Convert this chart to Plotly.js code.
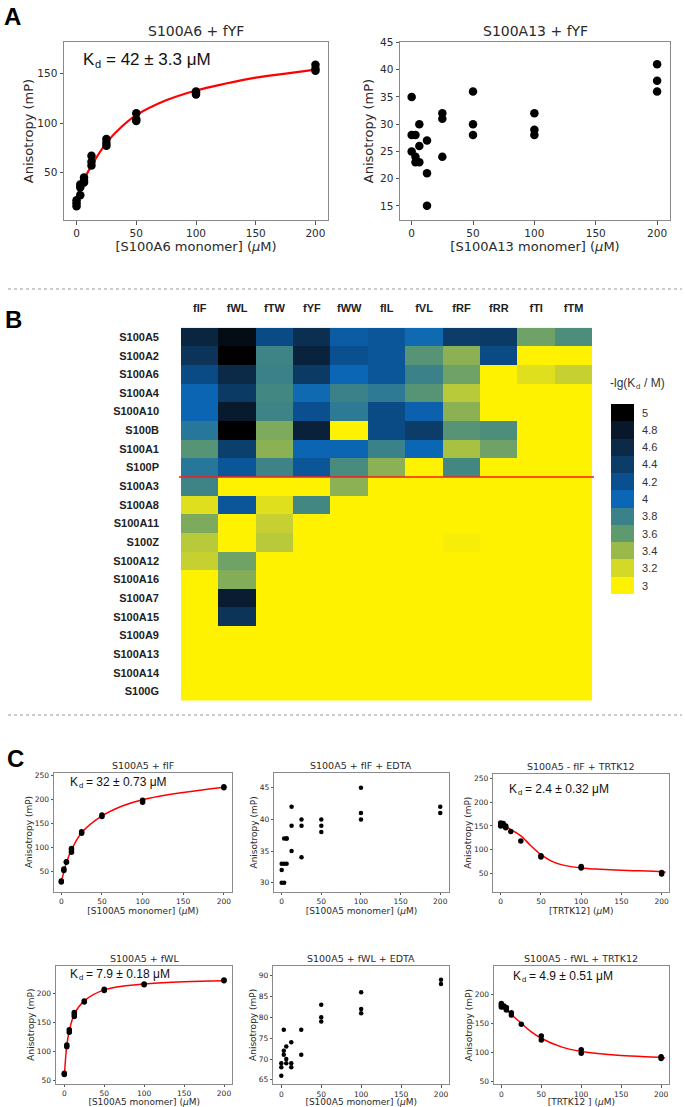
<!DOCTYPE html>
<html><head><meta charset="utf-8">
<script src="https://cdn.plot.ly/plotly-3.0.1.min.js"></script>
<style>body{margin:0;padding:0;background:#fff}#chart{width:685px;height:1107px}</style>
</head><body><div id="chart"></div>
<script>
// ---------- Panel A data ----------
const a6X = [0,0,0,3.125,3.125,3.125,6.25,6.25,6.25,12.5,12.5,12.5,25,25,25,50,50,50,100,100,100,200,200,200];
const a6Y = [16,19,22,27,35,38,40,42,45,57,61,67,77,80,84,102,104,110,129,131,132,153,155,159];
const a6FitX = [0,3.125,6.25,12.5,25,37.5,50,75,100,125,150,175,200];
const a6FitY = [25,35,43,57,80,96,108,123,133,140,146,150,154];
const a13X = [0,0,0,3.125,3.125,3.125,6.25,6.25,6.25,12.5,12.5,12.5,25,25,25,50,50,50,100,100,100,200,200,200];
const a13Y = [35,28,25,28,24,23,30,26,23,27,21,15,32,31,24,36,30,28,32,29,28,41,38,36];

// ---------- Panel B data ----------
const peptides = ['fIF','fWL','fTW','fYF','fWW','fIL','fVL','fRF','fRR','fTI','fTM'];
const s100s = ['S100A5','S100A2','S100A6','S100A4','S100A10','S100B','S100A1','S100P','S100A3','S100A8','S100A11','S100Z','S100A12','S100A16','S100A7','S100A15','S100A9','S100A13','S100A14','S100G'];
const pKd_S100A5  = [4.65,4.9,4.25,4.55,4.1,4.15,3.98,4.4,4.42,3.55,3.7];
const pKd_S100A2  = [4.5,5.0,3.78,4.68,4.2,4.15,3.65,3.45,4.25,3.0,3.0];
const pKd_S100A6  = [4.25,4.6,3.8,4.42,4.0,4.15,3.8,3.55,3.0,3.15,3.25];
const pKd_S100A4  = [4.02,4.42,3.75,3.98,3.8,3.85,3.65,3.3,3.0,3.0,3.0];
const pKd_S100A10 = [4.02,4.78,3.78,4.2,3.85,4.25,4.05,3.45,3.0,3.0,3.0];
const pKd_S100B   = [3.88,5.0,3.5,4.7,3.0,4.25,4.4,3.65,3.7,3.0,3.0];
const pKd_S100A1  = [3.65,4.38,3.45,4.02,4.02,3.8,4.0,3.35,3.55,3.0,3.0];
const pKd_S100P   = [3.88,4.15,3.78,4.15,3.72,3.45,3.0,3.75,3.0,3.0,3.0];
const pKd_S100A3  = [3.78,3.0,3.0,3.0,3.45,3.0,3.0,3.0,3.0,3.0,3.0];
const pKd_S100A8  = [3.15,4.15,3.15,3.75,3.0,3.0,3.0,3.0,3.0,3.0,3.0];
const pKd_S100A11 = [3.5,3.0,3.25,3.0,3.0,3.0,3.0,3.0,3.0,3.0,3.0];
const pKd_S100Z   = [3.3,3.0,3.3,3.0,3.0,3.0,3.0,3.04,3.0,3.0,3.0];
const pKd_S100A12 = [3.25,3.55,3.0,3.0,3.0,3.0,3.0,3.0,3.0,3.0,3.0];
const pKd_S100A16 = [3.0,3.48,3.0,3.0,3.0,3.0,3.0,3.0,3.0,3.0,3.0];
const pKd_S100A7  = [3.0,4.75,3.0,3.0,3.0,3.0,3.0,3.0,3.0,3.0,3.0];
const pKd_S100A15 = [3.0,4.5,3.0,3.0,3.0,3.0,3.0,3.0,3.0,3.0,3.0];
const pKd_S100A9  = [3.0,3.0,3.0,3.0,3.0,3.0,3.0,3.0,3.0,3.0,3.0];
const pKd_S100A13 = [3.0,3.0,3.0,3.0,3.0,3.0,3.0,3.0,3.0,3.0,3.0];
const pKd_S100A14 = [3.0,3.0,3.0,3.0,3.0,3.0,3.0,3.0,3.0,3.0,3.0];
const pKd_S100G   = [3.0,3.0,3.0,3.0,3.0,3.0,3.0,3.0,3.0,3.0,3.0];
const colorLevels = [3,3.2,3.4,3.6,3.8,4,4.2,4.4,4.6,4.8,5];
const colorLevelLabels = ['3','3.2','3.4','3.6','3.8','4','4.2','4.4','4.6','4.8','5'];

// ---------- Panel C data ----------
const c1X = [0,0,3.125,3.125,6.25,6.25,12.5,12.5,12.5,25,25,50,50,100,100,200,200];
const c1Y = [28,30,52,55,69,70,90,95,98,130,133,165,168,195,199,225,227];
const c1FitX = [0,3.125,6.25,12.5,25,50,75,100,150,200];
const c1FitY = [28,49,68,95,131,166,187,200,215,226];
const c2X = [0,0,0,3.125,3.125,3.125,6.25,6.25,6.25,12.5,12.5,12.5,25,25,25,50,50,50,100,100,100,200,200];
const c2Y = [30,32,33,30,33,37,33,37,37,35,39,42,34,39,40,38,39,40,40,41,45,41,42];
const c3X = [0,0,0,3.125,3.125,6.25,6.25,12.5,25,50,50,100,100,200,200];
const c3Y = [150,153,156,151,155,146,150,138,118,84,87,61,64,48,51];
const c3FitX = [0,6.25,12.5,18.75,25,37.5,50,62.5,75,100,125,150,200,205];
const c3FitY = [154,149,142,136,129,108,89,76,68,61,58,56,53,52];
const c4X = [0,0,3.125,3.125,6.25,6.25,12.5,12.5,12.5,25,25,50,50,100,100,200,200];
const c4Y = [60,62,108,111,133,137,160,164,167,185,187,205,207,215,216,222,223];
const c4FitX = [0,3.125,6.25,12.5,25,50,100,150,200];
const c4FitY = [56,110,135,164,187,206,216,220,222];
const c5X = [0,0,0,3.125,3.125,3.125,6.25,6.25,6.25,12.5,12.5,12.5,25,25,50,50,50,100,100,100,200,200];
const c5Y = [66,68,69,77,72,71,73,70,69,74,69,68,77,71,83,80,79,86,82,81,89,88];
const c6X = [0,0,0,3.125,3.125,6.25,6.25,12.5,12.5,25,50,50,100,100,200,200];
const c6Y = [178,181,184,178,180,173,177,164,168,148,121,128,98,104,89,92];
const c6FitX = [0,6.25,12.5,25,37.5,50,75,100,150,200,205];
const c6FitY = [184,175,165,150,135,124,109,101,94,91,90];

// ---------- helpers ----------
const W = 685, H = 1107;
const px = v => v / W;
const py = v => 1 - v / H;
const TXT = '#2a2a2a';
const MPL = 'DejaVu Sans, sans-serif';
const ARIAL = 'Liberation Sans, Arial, sans-serif';

const pkdMatrix = [pKd_S100A5,pKd_S100A2,pKd_S100A6,pKd_S100A4,pKd_S100A10,pKd_S100B,pKd_S100A1,pKd_S100P,
  pKd_S100A3,pKd_S100A8,pKd_S100A11,pKd_S100Z,pKd_S100A12,pKd_S100A16,pKd_S100A7,pKd_S100A15,
  pKd_S100A9,pKd_S100A13,pKd_S100A14,pKd_S100G];

const bandColors = ['#fff200','#d4d827','#9bb94b','#5f9a6f','#3a8189','#0b67b6','#0a5090','#0b3d68','#0b2a48','#08182a','#000000'];
const colorscale = colorLevels.map((lv, i) => [(lv - 3) / 2, bandColors[i]]);

function scatterAxes(xd, yd, xr, yr, ydtick, tfs, ts, xtitle, ytitle, titfs, xst, yst) {
  const common = {showline: true, mirror: true, linecolor: '#8a8a8a', linewidth: 1, ticks: 'outside',
    ticklen: ts, tickcolor: '#555', tickwidth: 1, showgrid: false, zeroline: false,
    tickfont: {family: MPL, size: tfs, color: TXT}, automargin: false};
  const xa = Object.assign({}, common, {domain: xd, range: xr, tickvals: [0,50,100,150,200],
    title: {text: xtitle, font: {family: MPL, size: titfs, color: TXT}, standoff: xst}});
  const ya = Object.assign({}, common, {domain: yd, range: yr, dtick: ydtick,
    title: {text: ytitle, font: {family: MPL, size: titfs, color: TXT}, standoff: yst}});
  return [xa, ya];
}

const layout = {
  width: W, height: H, margin: {l: 0, r: 0, t: 0, b: 0},
  paper_bgcolor: '#fff', plot_bgcolor: 'rgba(0,0,0,0)', showlegend: false,
  annotations: [], shapes: []
};

function setAxes(n, pair) {
  const xk = n === 1 ? 'xaxis' : 'xaxis' + n;
  const yk = n === 1 ? 'yaxis' : 'yaxis' + n;
  pair[0].anchor = n === 1 ? 'y' : 'y' + n;
  pair[1].anchor = n === 1 ? 'x' : 'x' + n;
  layout[xk] = pair[0]; layout[yk] = pair[1];
}

const muLabel = '(<i>μ</i>M)';
// Panel A axes
setAxes(1, scatterAxes([px(64), px(328)], [py(220), py(42)], [-10.5, 210.5], [2, 182], 50, 10.5, 3.5,
  '[S100A6 monomer] ' + muLabel, 'Anisotropy (mP)', 13, 3, 0));
setAxes(2, scatterAxes([px(400), px(670)], [py(220), py(42)], [-9.5, 210.5], [12.4, 45.1], 5, 10.5, 3.5,
  '[S100A13 monomer] ' + muLabel, 'Anisotropy (mP)', 13, 3, 3));
// Panel C axes
setAxes(5, scatterAxes([px(54), px(232)], [py(891.5), py(772.5)], [-9, 210], [8, 257], 50, 7.5, 2.5,
  '[S100A5 monomer] ' + muLabel, 'Anisotropy (mP)', 9, 1, 0));
layout.yaxis5.tickvals = [50,100,150,200,250];
setAxes(6, scatterAxes([px(274.3), px(448.5)], [py(891.5), py(773.3)], [-9.3, 210.4], [28.6, 47.3], 5, 7.5, 2.5,
  '[S100A5 monomer] ' + muLabel, 'Anisotropy (mP)', 9, 1, 0));
setAxes(7, scatterAxes([px(493.3), px(669.3)], [py(891.5), py(774)], [-9.2, 209.5], [11, 260], 50, 7.5, 2.5,
  '[TRTK12] ' + muLabel, 'Anisotropy (mP)', 9, 1, 0));
layout.yaxis7.tickvals = [50,100,150,200,250];
setAxes(8, scatterAxes([px(56), px(232.3)], [py(1083.5), py(965.7)], [-10.4, 210.4], [44.3, 247.8], 50, 7.5, 2.5,
  '[S100A5 monomer] ' + muLabel, 'Anisotropy (mP)', 9, 1, 0));
setAxes(9, scatterAxes([px(273.3), px(449)], [py(1084), py(965.7)], [-10, 210], [64, 92.4], 5, 7.5, 2.5,
  '[S100A5 monomer] ' + muLabel, 'Anisotropy (mP)', 9, 1, 0));
setAxes(10, scatterAxes([px(494), px(668.7)], [py(1084.3), py(966)], [-9.2, 209.5], [44.3, 249], 50, 7.5, 2.5,
  '[TRTK12 ] ' + muLabel, 'Anisotropy (mP)', 9, 1, 0));

// Panel B heatmap axes
layout.xaxis3 = {domain: [px(181), px(592.3)], anchor: 'y3', type: 'category', side: 'top',
  showline: false, showgrid: false, zeroline: false, ticks: '', ticklabelstandoff: 13,
  tickfont: {family: ARIAL, size: 11, color: '#222', weight: 'bold'}};
layout.yaxis3 = {domain: [py(700.7), py(327.7)], anchor: 'x3', type: 'category', autorange: 'reversed',
  showline: false, showgrid: false, zeroline: false, ticks: '', ticklabelstandoff: 21,
  tickfont: {family: ARIAL, size: 11, color: '#222', weight: 'bold'}};
// colour key axes
layout.xaxis4 = {domain: [px(611), px(634)], anchor: 'y4', visible: false, range: [-0.5, 0.5]};
layout.yaxis4 = {domain: [py(594.3), py(404)], anchor: 'x4', side: 'right', range: [2.9, 5.1],
  tickvals: colorLevels, ticktext: colorLevelLabels, ticks: '', showline: false, showgrid: false, zeroline: false,
  ticklabelstandoff: 7, tickfont: {family: ARIAL, size: 11, color: '#333'}};

const data = [];
function dots(x, y, n, size) {
  data.push({type: 'scatter', mode: 'markers', x: x, y: y, xaxis: n === 1 ? 'x' : 'x' + n, yaxis: n === 1 ? 'y' : 'y' + n,
    marker: {color: '#000', size: size}, hoverinfo: 'x+y'});
}
function fit(x, y, n, w) {
  data.push({type: 'scatter', mode: 'lines', x: x, y: y, xaxis: n === 1 ? 'x' : 'x' + n, yaxis: n === 1 ? 'y' : 'y' + n,
    line: {color: '#ff0000', width: w, shape: 'spline', smoothing: 1}, hoverinfo: 'skip'});
}
fit(a6FitX, a6FitY, 1, 2.2); dots(a6X, a6Y, 1, 8.5);
dots(a13X, a13Y, 2, 8.5);
fit(c1FitX, c1FitY, 5, 1.5); dots(c1X, c1Y, 5, 5.5);
dots(c2X, c2Y, 6, 4.5);
fit(c3FitX, c3FitY, 7, 1.5); dots(c3X, c3Y, 7, 5.5);
fit(c4FitX, c4FitY, 8, 1.5); dots(c4X, c4Y, 8, 5.5);
dots(c5X, c5Y, 9, 4.5);
fit(c6FitX, c6FitY, 10, 1.5); dots(c6X, c6Y, 10, 5.5);

data.push({type: 'heatmap', x: peptides, y: s100s, z: pkdMatrix, xaxis: 'x3', yaxis: 'y3',
  zmin: 3, zmax: 5, colorscale: colorscale, showscale: false});
data.push({type: 'heatmap', x: [0], y: colorLevels, z: colorLevels.map(v => [v]), xaxis: 'x4', yaxis: 'y4',
  zmin: 3, zmax: 5, colorscale: colorscale, showscale: false});

// subplot titles
function subTitle(n, text, size, shift) {
  layout.annotations.push({xref: 'x' + (n === 1 ? '' : n) + ' domain', yref: 'y' + (n === 1 ? '' : n) + ' domain',
    x: 0.5, y: 1, yanchor: 'bottom', yshift: shift, showarrow: false, text: text,
    font: {family: MPL, size: size, color: TXT}});
}
subTitle(1, 'S100A6 + fYF', 14, 1);
subTitle(2, 'S100A13 + fYF', 14, 1);
subTitle(5, 'S100A5 + fIF', 9.5, 0);
subTitle(6, 'S100A5 + fIF + EDTA', 9.5, 0);
subTitle(7, 'S100A5 - fIF + TRTK12', 9.5, 0);
subTitle(8, 'S100A5 + fWL', 9.5, 0);
subTitle(9, 'S100A5 + fWL + EDTA', 9.5, 0);
subTitle(10, 'S100A5 - fWL + TRTK12', 9.5, 0);

// text with a subscript "d", drawn as three plain pieces
function subText(xp, yp, head, headEm, tail, size, color) {
  const base = {xref: 'paper', yref: 'paper', xanchor: 'left', yanchor: 'middle', showarrow: false};
  layout.annotations.push(Object.assign({}, base, {x: px(xp), y: py(yp), text: head,
    font: {family: ARIAL, size: size, color: color}}));
  const subSize = size * 0.65;
  const xSub = xp + headEm * size + 0.5;
  layout.annotations.push(Object.assign({}, base, {x: px(xSub), y: py(yp + size * 0.28), text: 'd',
    font: {family: ARIAL, size: subSize, color: color}}));
  const xTail = xSub + 0.556 * subSize + 0.278 * size;
  layout.annotations.push(Object.assign({}, base, {x: px(xTail), y: py(yp), text: tail,
    font: {family: ARIAL, size: size, color: color}}));
}
subText(81, 59, 'K', 0.667, '= 42 ± 3.3 μM', 17, '#111');
subText(68, 782, 'K', 0.667, '= 32 ± 0.73 μM', 12, '#111');
subText(507, 789, 'K', 0.667, '= 2.4 ± 0.32 μM', 12, '#111');
subText(68, 974, 'K', 0.667, '= 7.9 ± 0.18 μM', 12, '#111');
subText(511, 976, 'K', 0.667, '= 4.9 ± 0.51 μM', 12, '#111');
// colour key title
subText(608, 383, '-lg(K', 2.111, '/ M)', 12, '#333');

// panel letters
function letter(t, xp, yp) {
  layout.annotations.push({xref: 'paper', yref: 'paper', x: px(xp), y: py(yp), xanchor: 'left', yanchor: 'middle',
    showarrow: false, text: '<b>' + t + '</b>', font: {family: ARIAL, size: 24, color: '#000'}});
}
letter('A', 2, 16);
letter('B', 3, 319);
letter('C', 5, 758);

// separators and S100P/S100A3 divider
layout.shapes.push({type: 'line', xref: 'paper', yref: 'paper', x0: px(8), x1: px(682), y0: py(289), y1: py(289),
  line: {color: '#9a9a9a', width: 1, dash: '3px,3px'}});
layout.shapes.push({type: 'line', xref: 'paper', yref: 'paper', x0: px(8), x1: px(682), y0: py(715), y1: py(715),
  line: {color: '#9a9a9a', width: 1, dash: '3px,3px'}});
layout.shapes.push({type: 'line', xref: 'paper', yref: 'y3', x0: px(179), x1: px(594), y0: 7.5, y1: 7.5,
  line: {color: '#ff1a1a', width: 1.5}});

Plotly.newPlot('chart', data, layout, {staticPlot: true, displayModeBar: false});
</script>
</body></html>
